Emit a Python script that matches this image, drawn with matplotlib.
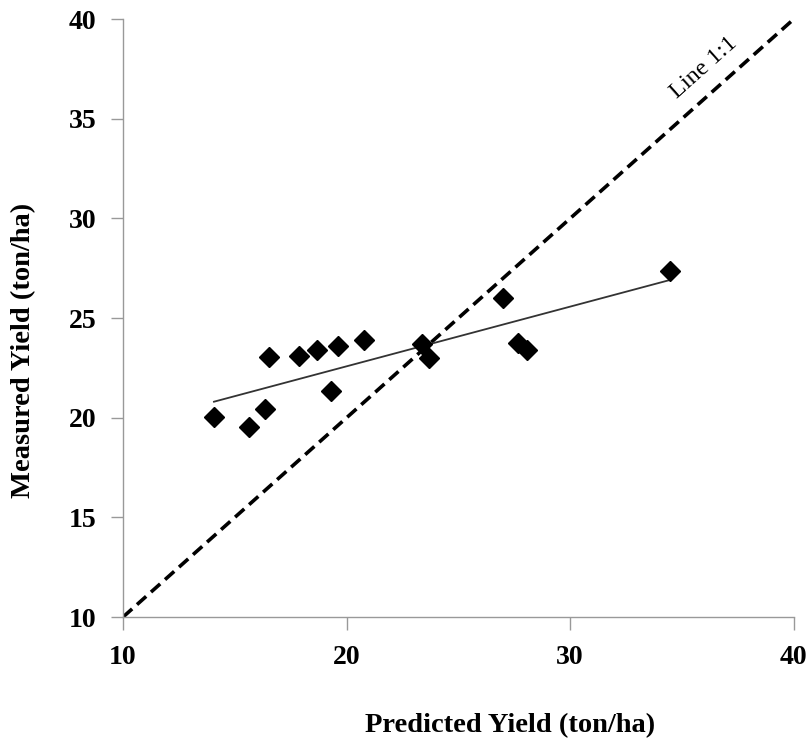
import numpy as np
import matplotlib.pyplot as plt

# predicted vs measured yield (ton/ha)
predicted = [14.07, 15.63, 16.35, 16.53, 17.87, 18.67, 19.61, 19.30, 20.77,
             23.37, 23.68, 26.99, 27.66, 28.06, 34.45]
measured = [20.04, 19.53, 20.44, 23.05, 23.10, 23.40, 23.60, 21.34, 23.90,
            23.70, 23.00, 26.01, 23.75, 23.40, 27.36]

ticks_x = [10, 20, 30, 40]
ticks_y = [10, 15, 20, 25, 30, 35, 40]

plt.rcParams['font.family'] = ['Liberation Serif', 'DejaVu Serif']

fig = plt.figure(figsize=(8.09, 7.39), dpi=100)
ax = fig.add_axes([0.152, 0.165, 0.829, 0.809])

# 1:1 line
ax.plot([10, 40], [10, 40], color='black', lw=2.6, ls=(0, (3.4, 1.8)), zorder=2)
ax.text(36.0, 37.55, 'Line 1:1', rotation=41.7, ha='center', va='center',
        fontsize=17.5, rotation_mode='anchor')

# linear trend
slope, icpt = np.polyfit(predicted, measured, 1)
xs = np.array([min(predicted), max(predicted)])
ax.plot(xs, slope * xs + icpt, color='#333333', lw=1.3, zorder=3)

ax.plot(predicted, measured, ls='none', marker='D', ms=10.5, color='black', zorder=4)

ax.set_xlim(10, 40)
ax.set_ylim(10, 40)
ax.set_xticks(ticks_x)
ax.set_yticks(ticks_y)
for s in ['top', 'right']:
    ax.spines[s].set_visible(False)
for s in ['left', 'bottom']:
    ax.spines[s].set_color('#999999')
    ax.spines[s].set_linewidth(1.0)
ax.tick_params(colors='#999999', length=9, width=1.0, labelcolor='black',
               labelsize=20)
ax.tick_params(axis='x', pad=11)
ax.tick_params(axis='y', pad=10)
for lab in ax.get_xticklabels() + ax.get_yticklabels():
    lab.set_fontweight('bold')

ax.set_xlabel('Predicted Yield (ton/ha)', fontsize=20.5, fontweight='bold', va='center')
ax.set_ylabel('Measured Yield (ton/ha)', fontsize=20.5, fontweight='bold', va='center')
ax.xaxis.set_label_coords(0.577, -0.181)
ax.yaxis.set_label_coords(-0.148, 0.4465)

fig.savefig('out.png', dpi=100)
